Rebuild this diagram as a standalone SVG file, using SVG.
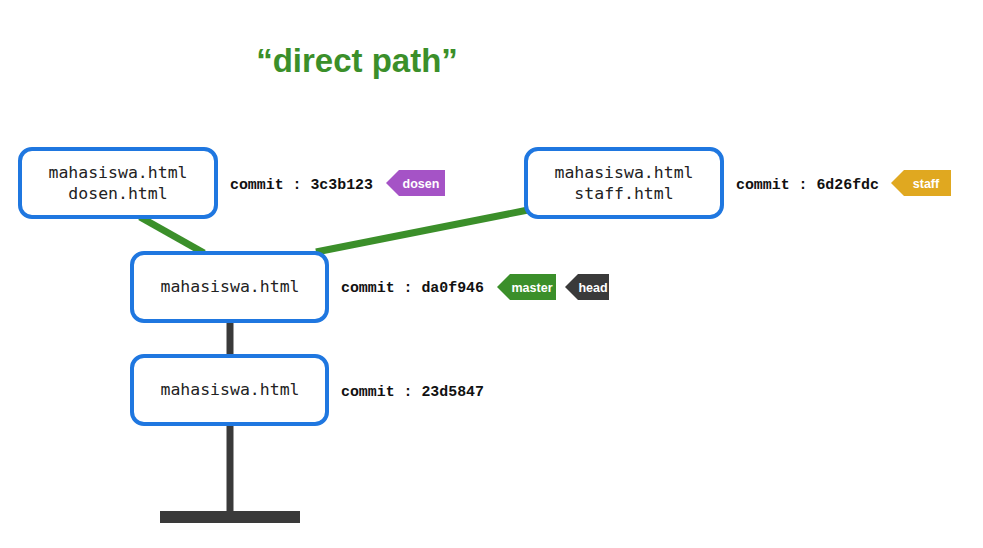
<svg xmlns="http://www.w3.org/2000/svg" width="983" height="548" viewBox="0 0 983 548">
<style>
.node{fill:#fff;stroke:#1f77e0;stroke-width:4}
.ft{font-family:"DejaVu Sans Mono",monospace;font-size:16.5px;fill:#222;text-anchor:middle}
.cm{font-family:"Liberation Mono","Courier New",monospace;font-weight:bold;font-size:14.9px;fill:#111}
.tag{font-family:"Liberation Sans",Arial,sans-serif;font-weight:bold;font-size:12.5px;fill:#fff;text-anchor:middle}
.g{stroke:#3b8f2a;stroke-width:7;fill:none}
.d{stroke:#3a3a3a;stroke-width:7;fill:none}
</style>
<rect width="983" height="548" fill="#fff"/>
<text x="357" y="72" font-family="Liberation Sans,Arial,sans-serif" font-weight="bold" font-size="33" fill="#3b8f2a" text-anchor="middle">“direct path”</text>
<g id="connectors">
<line class="g" x1="140" y1="217" x2="204" y2="253"/>
<line class="g" x1="316" y1="252" x2="528" y2="210"/>
<line class="d" x1="230" y1="321" x2="230" y2="356"/>
<line class="d" x1="230" y1="424" x2="230" y2="514"/>
<rect x="160" y="511" width="140" height="12" fill="#3a3a3a"/>
</g>
<g id="node-3c3b123">
<rect class="node" x="20" y="149" width="196" height="68" rx="12"/>
<text class="ft" x="118" y="178">mahasiswa.html</text>
<text class="ft" x="118" y="199">dosen.html</text>
<text class="cm" x="230" y="189">commit : 3c3b123</text>
</g>
<g id="node-6d26fdc">
<rect class="node" x="526" y="149" width="196" height="68" rx="12"/>
<text class="ft" x="624" y="178">mahasiswa.html</text>
<text class="ft" x="624" y="199">staff.html</text>
<text class="cm" x="736" y="189">commit : 6d26fdc</text>
</g>
<g id="node-da0f946">
<rect class="node" x="132" y="253" width="195" height="68" rx="12"/>
<text class="ft" x="230" y="292">mahasiswa.html</text>
<text class="cm" x="341" y="292">commit : da0f946</text>
</g>
<g id="node-23d5847">
<rect class="node" x="132" y="356" width="195" height="68" rx="12"/>
<text class="ft" x="230" y="395">mahasiswa.html</text>
<text class="cm" x="341" y="396">commit : 23d5847</text>
</g>
<g id="tag-dosen">
<polygon points="386,183 399,170 445,170 445,196 399,196" fill="#a553c6"/>
<text class="tag" x="421" y="188">dosen</text>
</g>
<g id="tag-staff">
<polygon points="891,183 904,170 951,170 951,196 904,196" fill="#e0a820"/>
<text class="tag" x="926" y="188">staff</text>
</g>
<g id="tag-master">
<polygon points="497,287 510,274 556,274 556,300 510,300" fill="#3b8f2a"/>
<text class="tag" x="532" y="292">master</text>
</g>
<g id="tag-head">
<polygon points="565,287 578,274 609,274 609,300 578,300" fill="#3a3a3a"/>
<text class="tag" x="593" y="292">head</text>
</g>
</svg>
